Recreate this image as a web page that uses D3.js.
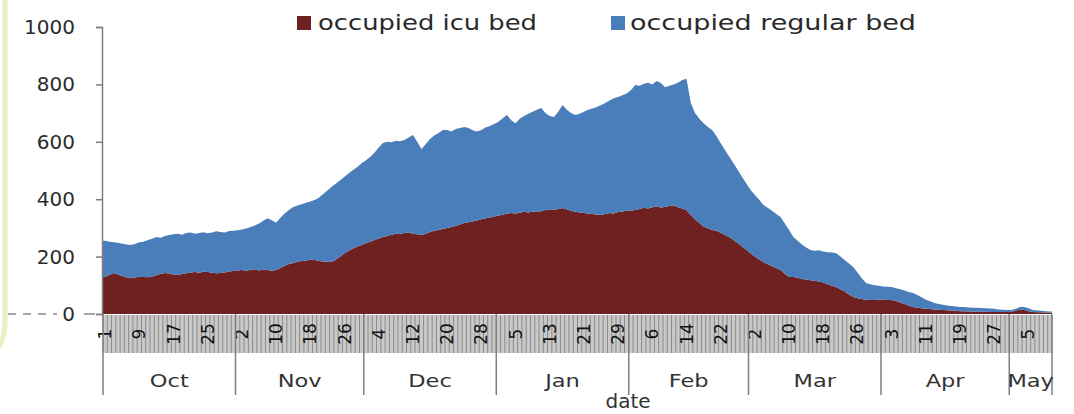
<!DOCTYPE html>
<html>
<head>
<meta charset="utf-8">
<script src="https://cdn.jsdelivr.net/npm/d3@7"></script>
<style>
  html, body { margin: 0; padding: 0; background: #ffffff; }
  svg { display: block; }
  text { font-family: "DejaVu Sans", "Liberation Sans", sans-serif; }
</style>
</head>
<body>
<svg id="chart" width="1074" height="414"></svg>
<script>
// ---- Data ----
const months = ["Oct", "Nov", "Dec", "Jan", "Feb", "Mar", "Apr", "May"];
const monthDays = [31, 30, 31, 31, 28, 31, 30, 10];
const yTicks = [0, 200, 400, 600, 800, 1000];
const seriesNames = ["occupied icu bed", "occupied regular bed"];

// occupied ICU beds per day (Oct 1 .. May 10)
const icuBeds = [
  // Oct
  129,136,143,138,132,128,125,127,130,129,128,131,135,140,143,141,138,136,139,142,145,146,144,147,146,144,142,143,145,148,150,
  // Nov
  152,153,150,154,156,152,155,153,151,153,160,168,174,178,182,185,186,189,188,185,183,182,181,190,200,212,220,228,235,240,
  // Dec
  247,252,258,263,268,272,276,280,279,282,284,280,278,275,280,286,290,293,296,300,303,307,312,317,320,322,326,330,334,336,340,
  // Jan
  343,346,350,352,350,353,356,354,357,355,358,362,365,362,366,369,364,360,356,354,352,350,348,346,345,348,352,350,355,357,360,
  // Feb
  360,362,366,370,368,372,375,371,373,376,378,372,368,362,345,330,317,305,298,293,290,283,275,268,258,247,235,224,
  // Mar
  212,200,190,180,173,166,160,153,140,129,129,126,122,120,118,116,113,110,104,98,94,86,78,68,59,55,52,50,49,49,50,
  // Apr
  50,49,49,45,40,35,30,24,22,20,18,17,16,15,14,13,12,11,10,10,9,9,8,8,8,7,7,7,7,7,
  // May
  7,12,15,14,10,7,6,6,5,5
];

// occupied beds in total (top of the stack) per day
const totalBeds = [
  // Oct
  255,252,250,248,245,242,240,244,250,252,258,262,268,266,272,275,278,280,276,282,284,280,282,285,281,284,288,286,284,289,290,
  // Nov
  292,294,298,303,308,315,325,334,327,318,335,350,362,373,378,382,388,392,397,405,418,430,443,455,466,478,490,502,512,525,
  // Dec
  536,547,562,580,596,600,598,604,602,606,615,624,600,575,592,610,622,631,641,641,636,645,648,652,648,640,636,641,650,655,662,
  // Jan
  670,682,693,675,665,680,690,698,705,712,718,700,690,686,705,728,712,700,693,698,705,712,716,721,728,735,744,752,756,762,768,
  // Feb
  780,798,795,802,806,800,812,805,790,795,800,806,815,820,735,700,680,665,652,641,620,595,571,548,525,502,477,455,
  // Mar
  432,415,398,380,370,360,348,338,315,293,268,255,242,232,223,220,222,218,215,214,212,200,188,176,164,145,125,108,104,100,98,
  // Apr
  96,95,94,90,86,82,77,73,66,58,50,44,38,35,32,30,28,26,24,24,23,22,22,21,20,19,18,16,15,14,
  // May
  14,18,24,24,20,14,12,11,10,9
];

(function () {
// ---- Build tables ----
const regularBeds = totalBeds.map((t, i) => Math.max(0, t - icuBeds[i]));
const days = [];
months.forEach((m, mi) => {
  for (let d = 1; d <= monthDays[mi]; d++) days.push({ month: m, day: d });
});
const table = days.map((d, i) => ({ i, month: d.month, day: d.day, icu: icuBeds[i], regular: regularBeds[i] }));

// ---- Layout ----
const svg = d3.select("#chart");
const mLeft = 103, mRight = 1052, mTop = 27, mBottom = 314;
const colors = { icu: "#6e2120", regular: "#4a7ebb" };

const x = d3.scaleLinear().domain([0, days.length]).range([mLeft, mRight]);
const y = d3.scaleLinear().domain([0, 1000]).range([mBottom, mTop]);

// slide decoration on the left
svg.append("path")
  .attr("d", "M5,0 L5,318 Q5,342 -4,350")
  .attr("fill", "none").attr("stroke", "#e9f0c4").attr("stroke-width", 5);

// stacked areas
const stack = d3.stack().keys(["icu", "regular"]);
const stacked = stack(table);
const area = d3.area()
  .x(d => d.xx)
  .y0(d => y(d.y0))
  .y1(d => y(d.y1))
  .curve(d3.curveLinear);

stacked.forEach(layer => {
  const pts = layer.map((p, i) => ({ xx: x(i + 0.5), y0: p[0], y1: p[1] }));
  pts.unshift({ xx: x(0), y0: layer[0][0], y1: layer[0][1] });
  const last = layer[layer.length - 1];
  pts.push({ xx: x(days.length), y0: last[0], y1: last[1] });
  svg.append("path")
    .datum(pts)
    .attr("fill", colors[layer.key])
    .attr("d", area);
});

// category band (daily ticks)
const bandTop = 315, bandBottom = 353;
svg.append("rect")
  .attr("x", mLeft).attr("y", bandTop)
  .attr("width", mRight - mLeft).attr("height", bandBottom - bandTop)
  .attr("fill", "#c9c9c9");
svg.append("g").selectAll("line")
  .data(d3.range(days.length + 1))
  .join("line")
  .attr("x1", i => x(i)).attr("x2", i => x(i))
  .attr("y1", bandTop).attr("y2", bandBottom)
  .attr("stroke", "#8a8a8a").attr("stroke-width", 1);

// day labels every 8 days
svg.append("g").selectAll("text")
  .data(table.filter(d => d.i % 8 === 0))
  .join("text")
  .attr("transform", d => `translate(${x(d.i + 0.5) + 6},${(bandTop + bandBottom) / 2}) rotate(-90)`)
  .attr("text-anchor", "middle")
  .attr("font-size", 17)
  .attr("fill", "#111")
  .text(d => d.day);

// month separators and labels
const monthStarts = [];
let acc = 0;
months.forEach((m, mi) => { monthStarts.push(acc); acc += monthDays[mi]; });
monthStarts.push(acc);
svg.append("g").selectAll("line")
  .data(monthStarts)
  .join("line")
  .attr("x1", i => x(i)).attr("x2", i => x(i))
  .attr("y1", mBottom).attr("y2", 395)
  .attr("stroke", "#7f7f7f").attr("stroke-width", 1.5);
svg.append("g").selectAll("text")
  .data(months)
  .join("text")
  .attr("transform", (m, mi) => `translate(${(x(monthStarts[mi]) + x(monthStarts[mi + 1])) / 2},387) scale(1.25,1)`)
  .attr("text-anchor", "middle")
  .attr("font-size", 18)
  .attr("fill", "#333")
  .text(m => m);

// y axis
const yAxis = d3.axisLeft(y).tickValues(yTicks).tickSize(6).tickPadding(21).tickFormat(d3.format("d"));
const gy = svg.append("g").attr("transform", `translate(${mLeft - 1},0)`).call(yAxis);
gy.select(".domain").attr("stroke", "#7f7f7f").attr("stroke-width", 1.5);
gy.selectAll(".tick line").attr("stroke", "#7f7f7f").attr("stroke-width", 1.5);
gy.selectAll(".tick text")
  .attr("font-family", "DejaVu Sans, sans-serif")
  .attr("font-size", 20)
  .attr("fill", "#2b2b2b");

// dashed decoration line at zero
svg.append("line").attr("x1", 8).attr("x2", 57).attr("y1", mBottom).attr("y2", mBottom)
  .attr("stroke", "#8a8a8a").attr("stroke-width", 1.5).attr("stroke-dasharray", "8,7");
svg.append("line").attr("x1", 84).attr("x2", 95).attr("y1", mBottom).attr("y2", mBottom)
  .attr("stroke", "#8a8a8a").attr("stroke-width", 1.5);

// x axis title
svg.append("text")
  .attr("x", 628).attr("y", 408)
  .attr("text-anchor", "middle")
  .attr("font-size", 20)
  .attr("fill", "#333")
  .text("date");

// legend
const legendItems = [
  { name: seriesNames[0], color: colors.icu, sx: 297, tx: 318, w: 219 },
  { name: seriesNames[1], color: colors.regular, sx: 611, tx: 630, w: 286 }
];
const lg = svg.append("g");
legendItems.forEach(it => {
  lg.append("rect").attr("x", it.sx).attr("y", 16).attr("width", 14).attr("height", 14).attr("fill", it.color);
  lg.append("text").attr("x", it.tx).attr("y", 30)
    .attr("font-size", 21).attr("fill", "#2a2a2a")
    .attr("textLength", it.w).attr("lengthAdjust", "spacingAndGlyphs")
    .text(it.name);
});
})();
</script>
</body>
</html>
